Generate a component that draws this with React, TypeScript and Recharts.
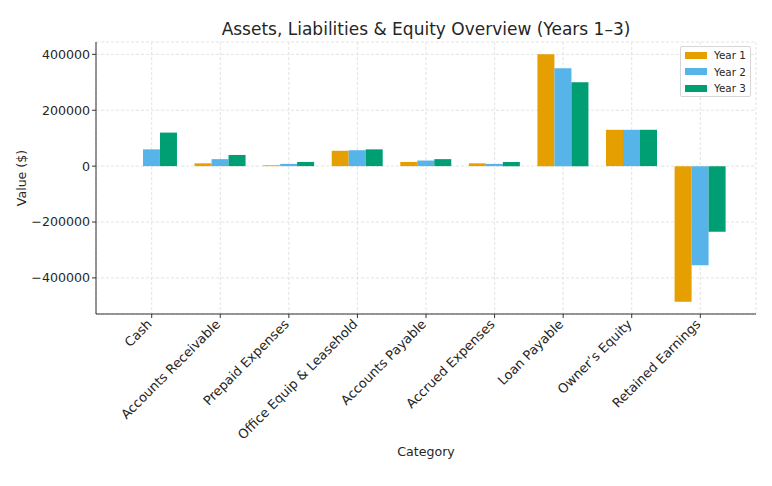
import React from 'react';
import { BarChart, Bar, XAxis, YAxis, CartesianGrid } from 'recharts';

const categories = [
  'Cash',
  'Accounts Receivable',
  'Prepaid Expenses',
  'Office Equip & Leasehold',
  'Accounts Payable',
  'Accrued Expenses',
  'Loan Payable',
  'Owner\u2019s Equity',
  'Retained Earnings',
];
const year1 = [0, 10000, 3000, 55000, 15000, 10000, 400000, 130000, -485000];
const year2 = [60000, 25000, 8000, 57000, 20000, 8000, 350000, 130000, -355000];
const year3 = [120000, 40000, 15000, 60000, 25000, 15000, 300000, 130000, -235000];
const yTicks = [-400000, -200000, 0, 200000, 400000];
const seriesNames = ['Year 1', 'Year 2', 'Year 3'];
const colors = ['#E69F00', '#56B4E9', '#009E73'];

const data = categories.map((c, i) => ({
  category: c,
  y1: year1[i],
  y2: year2[i],
  y3: year3[i],
}));

const FONT = 'DejaVu Sans, sans-serif';
const TEXT = '#262626';
const FS = 12.6;

const fmt = (v: number) => (v < 0 ? '\u2212' + Math.abs(v) : String(v));

const XTick = (props: any) => {
  const { x, y, payload } = props;
  return (
    <g transform={`translate(${x + 1},${y + 5})`}>
      <text transform="rotate(-45)" textAnchor="end" fontSize={13} fontFamily={FONT} fill={TEXT}>
        {payload.value}
      </text>
    </g>
  );
};

const LegendBox = () => (
  <div
    style={{
      position: 'absolute',
      left: 680,
      top: 46,
      width: 71,
      height: 51,
      boxSizing: 'border-box',
      border: '1px solid #d6d6d6',
      borderRadius: 2,
      background: 'rgba(255,255,255,0.85)',
      padding: '0px 0 0 4px',
      fontFamily: FONT,
      fontSize: 10.4,
      color: TEXT,
      whiteSpace: 'nowrap',
    }}
  >
    {seriesNames.map((n, i) => (
      <div key={n} style={{ display: 'flex', alignItems: 'center', height: 16.5 }}>
        <span
          style={{
            display: 'inline-block',
            width: 22,
            height: 7,
            background: colors[i],
            marginRight: 7,
          }}
        />
        <span>{n}</span>
      </div>
    ))}
  </div>
);

export default function App() {
  return (
    <div style={{ position: 'absolute', left: 0, top: 0, width: 772, height: 486, background: '#fff' }}>
      <BarChart
        width={772}
        height={486}
        data={data}
        margin={{ top: 42, right: 16, bottom: 0, left: 0 }}
        barCategoryGap="12.5%"
        barGap={0}
      >
        <text x={426} y={35} textAnchor="middle" fontSize={17} fontFamily={FONT} fill={TEXT}>
          Assets, Liabilities &amp; Equity Overview (Years 1–3)
        </text>
        <CartesianGrid stroke="#dcdcdc" strokeDasharray="3 2" strokeWidth={0.8} />
        <XAxis
          dataKey="category"
          height={172}
          interval={0}
          padding={{ left: 21.4, right: 21.4 }}
          tick={<XTick />}
          tickSize={4}
          tickLine={{ stroke: '#333' }}
          axisLine={{ stroke: '#333', strokeWidth: 1 }}
          label={{
            value: 'Category',
            position: 'insideBottom',
            offset: 30,
            fontSize: FS,
            fontFamily: FONT,
            fill: TEXT,
          }}
        />
        <YAxis
          width={96}
          type="number"
          domain={[-529250, 444250]}
          ticks={yTicks}
          allowDataOverflow
          tickFormatter={fmt}
          tickSize={4}
          tickLine={{ stroke: '#333' }}
          axisLine={{ stroke: '#333', strokeWidth: 1 }}
          tick={{ fontSize: FS, fontFamily: FONT, fill: TEXT }}
          label={{
            value: 'Value ($)',
            angle: -90,
            position: 'insideLeft',
            offset: 22,
            fontSize: FS,
            fontFamily: FONT,
            fill: TEXT,
            style: { textAnchor: 'middle' },
          }}
        />
        <Bar dataKey="y1" name={seriesNames[0]} fill={colors[0]} isAnimationActive={false} />
        <Bar dataKey="y2" name={seriesNames[1]} fill={colors[1]} isAnimationActive={false} />
        <Bar dataKey="y3" name={seriesNames[2]} fill={colors[2]} isAnimationActive={false} />
      </BarChart>
      <LegendBox />
    </div>
  );
}
